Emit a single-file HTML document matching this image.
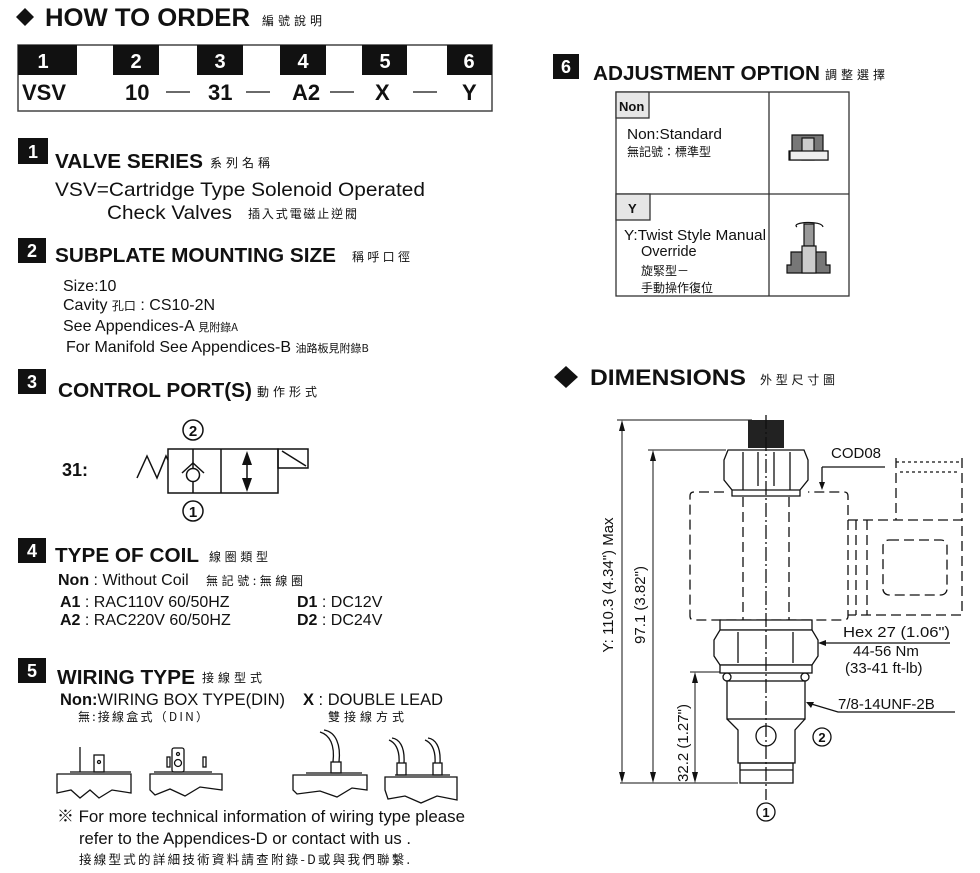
<!DOCTYPE html>
<html><head><meta charset="utf-8"><style>
html,body{margin:0;padding:0;background:#fff;}
svg{display:block;}
text{font-family:"Liberation Sans","Noto Sans CJK TC",sans-serif;fill:#111;}
.b{font-weight:bold;}
.cj{font-family:"Noto Sans CJK TC","WenQuanYi Zen Hei",sans-serif;}
</style></head><body>
<svg width="980" height="873" viewBox="0 0 980 873" xmlns="http://www.w3.org/2000/svg">
<!-- HOW TO ORDER -->
<polygon points="25,8 34,17 25,26 16,17" fill="#111"/>
<text x="45" y="26" class="b" font-size="25" textLength="205" lengthAdjust="spacingAndGlyphs">HOW TO  ORDER</text>
<text x="262" y="25" class="cj" font-size="12" textLength="60">編號說明</text>
<rect x="18" y="45" width="474" height="66" fill="none" stroke="#444" stroke-width="1.5"/>
<g fill="#111">
<rect x="18" y="45" width="59" height="30"/><rect x="113" y="45" width="46" height="30"/>
<rect x="197" y="45" width="46" height="30"/><rect x="280" y="45" width="46" height="30"/>
<rect x="362" y="45" width="45" height="30"/><rect x="447" y="45" width="45" height="30"/>
</g>
<g class="b" font-size="20" text-anchor="middle">
<text x="43" y="68" style="fill:#fff">1</text><text x="136" y="68" style="fill:#fff">2</text>
<text x="220" y="68" style="fill:#fff">3</text><text x="303" y="68" style="fill:#fff">4</text>
<text x="385" y="68" style="fill:#fff">5</text><text x="469" y="68" style="fill:#fff">6</text>
</g>
<g class="b" font-size="22">
<text x="22" y="100">VSV</text><text x="125" y="100">10</text><text x="208" y="100">31</text>
<text x="292" y="100">A2</text><text x="375" y="100">X</text><text x="462" y="100">Y</text>
</g>
<g stroke="#111" stroke-width="1.3">
<line x1="166" y1="92" x2="190" y2="92"/><line x1="246" y1="92" x2="270" y2="92"/>
<line x1="330" y1="92" x2="354" y2="92"/><line x1="413" y1="92" x2="437" y2="92"/>
</g>

<!-- section squares -->
<g fill="#111">
<rect x="18" y="138" width="30" height="26"/><rect x="18" y="238" width="28" height="25"/>
<rect x="18" y="369" width="28" height="25"/><rect x="18" y="538" width="28" height="25"/>
<rect x="18" y="658" width="28" height="25"/><rect x="553" y="54" width="26" height="25"/>
</g>
<g class="b" font-size="18" text-anchor="middle">
<text x="33" y="158" style="fill:#fff">1</text><text x="32" y="257" style="fill:#fff">2</text>
<text x="32" y="388" style="fill:#fff">3</text><text x="32" y="557" style="fill:#fff">4</text>
<text x="32" y="677" style="fill:#fff">5</text><text x="566" y="73" style="fill:#fff">6</text>
</g>

<!-- 1 -->
<text x="55" y="168" class="b" font-size="20" textLength="148" lengthAdjust="spacingAndGlyphs">VALVE SERIES</text>
<text x="210" y="167" class="cj" font-size="12" textLength="60">系列名稱</text>
<text x="55" y="196" font-size="19.5" textLength="370" lengthAdjust="spacingAndGlyphs">VSV=Cartridge Type Solenoid Operated</text>
<text x="107" y="219" font-size="19.5" textLength="125" lengthAdjust="spacingAndGlyphs">Check Valves</text>
<text x="248" y="218" class="cj" font-size="12" textLength="109">插入式電磁止逆閥</text>

<!-- 2 -->
<text x="55" y="262" class="b" font-size="20" textLength="281" lengthAdjust="spacingAndGlyphs">SUBPLATE MOUNTING SIZE</text>
<text x="352" y="261" class="cj" font-size="12" textLength="58">稱呼口徑</text>
<text x="63" y="291" font-size="16">Size:10</text>
<text x="63" y="310" font-size="16">Cavity <tspan class="cj" font-size="12">孔口</tspan> : CS10-2N</text>
<text x="63" y="331" font-size="16">See Appendices-A <tspan class="cj" font-size="11">見附錄A</tspan></text>
<text x="66" y="352" font-size="16">For Manifold See Appendices-B <tspan class="cj" font-size="11">油路板見附錄B</tspan></text>

<!-- 3 -->
<text x="58" y="397" class="b" font-size="20" textLength="194" lengthAdjust="spacingAndGlyphs">CONTROL PORT(S)</text>
<text x="257" y="396" class="cj" font-size="12" textLength="60">動作形式</text>
<text x="62" y="476" class="b" font-size="18">31:</text>
<g stroke="#111" stroke-width="1.5" fill="none">
<polyline points="137,478 147,456 157,478 166,456 168,460"/>
<rect x="168" y="449" width="110" height="44"/>
<line x1="221" y1="449" x2="221" y2="493"/>
<rect x="278" y="449" width="30" height="19"/>
<line x1="282" y1="451" x2="306" y2="466"/>
<circle cx="193" cy="475" r="6.5"/>
<line x1="193" y1="449" x2="193" y2="468"/><line x1="193" y1="482" x2="193" y2="493"/>
<polyline points="182,473 193,463 204,473"/>
<line x1="247" y1="455" x2="247" y2="488"/>
<circle cx="193" cy="430" r="10"/><circle cx="193" cy="511" r="10"/>
</g>
<polygon points="247,451 242,465 252,465" fill="#111"/>
<polygon points="247,492 242,478 252,478" fill="#111"/>
<text x="193" y="436" text-anchor="middle" class="b" font-size="15">2</text>
<text x="193" y="517" text-anchor="middle" class="b" font-size="15">1</text>

<!-- 4 -->
<text x="55" y="562" class="b" font-size="20" textLength="144" lengthAdjust="spacingAndGlyphs">TYPE OF COIL</text>
<text x="209" y="561" class="cj" font-size="12" textLength="59">線圈類型</text>
<text x="58" y="585" font-size="16"><tspan class="b">Non</tspan> : Without Coil </text>
<text x="206" y="585" class="cj" font-size="12" textLength="97">無記號:無線圈</text>
<text x="60" y="607" font-size="16"><tspan class="b">A1</tspan>   : RAC110V  60/50HZ</text>
<text x="60" y="625" font-size="16"><tspan class="b">A2</tspan>   : RAC220V  60/50HZ</text>
<text x="297" y="607" font-size="16"><tspan class="b">D1</tspan> : DC12V</text>
<text x="297" y="625" font-size="16"><tspan class="b">D2</tspan> : DC24V</text>

<!-- 5 -->
<text x="57" y="684" class="b" font-size="20" textLength="138" lengthAdjust="spacingAndGlyphs">WIRING TYPE</text>
<text x="202" y="682" class="cj" font-size="12" textLength="60">接線型式</text>
<text x="60" y="705" font-size="16.5" textLength="225" lengthAdjust="spacingAndGlyphs"><tspan class="b">Non:</tspan>WIRING BOX TYPE(DIN)</text>
<text x="78" y="721" class="cj" font-size="12" textLength="130">無:接線盒式（DIN）</text>
<text x="303" y="705" font-size="16.5" textLength="140" lengthAdjust="spacingAndGlyphs"><tspan class="b">X</tspan> : DOUBLE LEAD</text>
<text x="328" y="721" class="cj" font-size="12" textLength="76">雙接線方式</text>
<g stroke="#111" stroke-width="1.3" fill="none">
<path d="M57,774 L131,774 L131,793 L112,790 L99,798 L90,790 L80,798 L71,790 L57,793 Z"/>
<line x1="70" y1="772" x2="131" y2="772"/>
<line x1="80" y1="747" x2="80" y2="772"/>
<rect x="94" y="755" width="10" height="17"/><circle cx="99" cy="762" r="1.5"/>
<path d="M150,774 L222,774 L222,790 L200,787 L185,796 L170,789 L155,795 L150,790 Z"/>
<line x1="154" y1="772" x2="212" y2="772"/>
<rect x="172" y="748" width="12" height="24" rx="2"/><circle cx="178" cy="754" r="1.5"/><circle cx="178" cy="763" r="3.5"/>
<rect x="167" y="757" width="3" height="10"/><rect x="203" y="757" width="3" height="10"/>
<path d="M293,775 L367,775 L367,790 L352,788 L337,797 L320,791 L297,794 L293,790 Z"/>
<line x1="306" y1="773" x2="362" y2="773"/>
<rect x="331" y="762" width="10" height="11"/>
<path d="M333,762 C335,745 330,735 320,732 M339,762 C341,745 336,732 324,730"/>
<path d="M385,777 L457,777 L457,800 L437,796 L421,803 L405,796 L388,799 L385,790 Z"/>
<line x1="395" y1="775" x2="450" y2="775"/>
<rect x="397" y="763" width="9" height="12"/><rect x="433" y="763" width="9" height="12"/>
<path d="M399,763 C400,748 394,742 389,740 M404,763 C405,746 399,739 392,738"/>
<path d="M435,763 C436,748 430,742 425,740 M440,763 C441,746 435,739 428,738"/>
</g>
<text x="57" y="822" font-size="17" textLength="408" lengthAdjust="spacingAndGlyphs">※ For more technical information of wiring type  please</text>
<text x="79" y="844" font-size="17" textLength="332" lengthAdjust="spacingAndGlyphs">refer to the Appendices-D or contact with us .</text>
<text x="79" y="864" class="cj" font-size="12.5" textLength="331">接線型式的詳細技術資料請查附錄-D或與我們聯繫.</text>

<!-- 6 -->
<text x="593" y="80" class="b" font-size="20" textLength="227" lengthAdjust="spacingAndGlyphs">ADJUSTMENT OPTION</text>
<text x="825" y="79" class="cj" font-size="12" textLength="60">調整選擇</text>
<g stroke="#333" stroke-width="1.3">
<rect x="616" y="92" width="233" height="204" fill="none"/>
<line x1="769" y1="92" x2="769" y2="296"/><line x1="616" y1="194" x2="849" y2="194"/>
<rect x="616" y="92" width="33" height="26" fill="#e6e6e6"/>
<rect x="616" y="194" width="34" height="26" fill="#e6e6e6"/>
</g>
<text x="619" y="111" class="b" font-size="13">Non</text>
<text x="628" y="213" class="b" font-size="13">Y</text>
<text x="627" y="139" font-size="14.5" textLength="95" lengthAdjust="spacingAndGlyphs">Non:Standard</text>
<text x="627" y="156" class="cj" font-size="12">無記號：標準型</text>
<text x="624" y="240" font-size="14.5" textLength="142" lengthAdjust="spacingAndGlyphs">Y:Twist Style Manual</text>
<text x="641" y="256" font-size="14.5">Override</text>
<text x="641" y="275" class="cj" font-size="12">旋緊型－</text>
<text x="641" y="292" class="cj" font-size="12">手動操作復位</text>
<g stroke="#111" stroke-width="1.2">
<path d="M792,135 L823,135 L823,151 L828,151 L828,160 L789,160 L789,151 L792,151 Z" fill="#777"/>
<rect x="802" y="138" width="12" height="22" fill="#ccc"/>
<rect x="790" y="151" width="38" height="9" fill="#eee"/>
<rect x="804" y="224" width="10" height="22" fill="#999"/>
<path d="M797,227 C790,222 822,220 823,227" fill="none"/>
<path d="M791,252 L826,252 L826,265 L830,265 L830,273 L787,273 L787,265 L791,265 Z" fill="#777"/>
<rect x="802" y="246" width="14" height="27" fill="#ccc"/>
</g>

<!-- DIMENSIONS -->
<polygon points="566,366 578,377 566,388 554,377" fill="#111"/>
<text x="590" y="385" class="b" font-size="22" textLength="156" lengthAdjust="spacingAndGlyphs">DIMENSIONS</text>
<text x="760" y="384" class="cj" font-size="12" textLength="75">外型尺寸圖</text>
<g stroke="#111" stroke-width="1" fill="none">
<line x1="617" y1="420" x2="752" y2="420"/><line x1="620" y1="783" x2="738" y2="783"/>
<line x1="648" y1="450" x2="726" y2="450"/><line x1="690" y1="672" x2="725" y2="672"/>
<line x1="622" y1="424" x2="622" y2="779"/><line x1="653" y1="454" x2="653" y2="779"/>
<line x1="695" y1="676" x2="695" y2="779"/>
</g>
<g fill="#111">
<polygon points="622,420 619,431 625,431"/><polygon points="622,783 619,772 625,772"/>
<polygon points="653,450 650,461 656,461"/><polygon points="653,783 650,772 656,772"/>
<polygon points="695,672 692,683 698,683"/><polygon points="695,783 692,772 698,772"/>
</g>
<text transform="translate(613,585) rotate(-90)" text-anchor="middle" font-size="15">Y: 110.3 (4.34")  Max</text>
<text transform="translate(645,605) rotate(-90)" text-anchor="middle" font-size="15">97.1 (3.82")</text>
<text transform="translate(688,743) rotate(-90)" text-anchor="middle" font-size="15">32.2 (1.27")</text>
<rect x="748" y="420" width="36" height="28" fill="#222"/>
<g stroke="#111" stroke-width="1.3" fill="none">
<path d="M728,450 L804,450 L808,460 L808,480 L800,490 L800,496 L732,496 L732,490 L724,480 L724,460 Z" fill="#fff"/>
<line x1="743" y1="452" x2="743" y2="490"/><line x1="790" y1="452" x2="790" y2="490"/>
<line x1="758" y1="452" x2="758" y2="486"/><line x1="774" y1="452" x2="774" y2="486"/>
<line x1="732" y1="490" x2="800" y2="490"/>
<g stroke-dasharray="10,5">
<path d="M724,492 L694,492 Q690,492 690,496 L690,616 Q690,620 694,620 L844,620 Q848,620 848,616 L848,496 Q848,492 844,492 L808,492"/>
<line x1="743" y1="497" x2="743" y2="625"/><line x1="789" y1="497" x2="789" y2="625"/>
<path d="M848,520 L962,520 L962,615 L848,615"/>
<line x1="867" y1="520" x2="867" y2="615"/><line x1="856" y1="520" x2="856" y2="615"/>
<rect x="883" y="540" width="64" height="55" rx="6"/>
<line x1="896" y1="458" x2="896" y2="520"/><line x1="962" y1="458" x2="962" y2="520"/>
</g>
<path d="M896,462 L962,462 M900,472 L958,472" stroke-dasharray="3,3"/>
<path d="M720,620 L812,620 L812,630 L720,630 Z" fill="#fff"/>
<path d="M720,630 L812,630 L818,640 L818,656 L812,665 L720,665 L714,656 L714,640 Z" fill="#fff"/>
<line x1="738" y1="632" x2="738" y2="663"/><line x1="793" y1="632" x2="793" y2="663"/>
<rect x="720" y="665" width="92" height="8" fill="#fff"/>
<circle cx="727" cy="677" r="4"/><circle cx="805" cy="677" r="4"/>
<rect x="727" y="681" width="78" height="38" fill="#fff"/>
<path d="M727,719 L738,730 L738,763 L795,763 L795,730 L805,719"/>
<circle cx="766" cy="736" r="10"/>
<rect x="740" y="763" width="53" height="20"/>
<line x1="740" y1="770" x2="793" y2="770"/>
<line x1="766" y1="415" x2="766" y2="800" stroke-dasharray="14,3,2,3"/>
<line x1="822" y1="467" x2="885" y2="467"/><line x1="822" y1="467" x2="822" y2="485"/>
<line x1="822" y1="643" x2="950" y2="643"/>
<path d="M808,703 L838,712 L955,712"/>
<circle cx="822" cy="737" r="9"/><circle cx="766" cy="812" r="9"/>
</g>
<polygon points="822,490 819,482 825,482" fill="#111"/>
<polygon points="818,643 826,640 826,646" fill="#111"/>
<polygon points="806,702 814,702 811,708" fill="#111"/>
<text x="831" y="458" font-size="15">COD08</text>
<text x="843" y="637" font-size="15" textLength="107" lengthAdjust="spacingAndGlyphs">Hex 27 (1.06")</text>
<text x="853" y="656" font-size="15">44-56 Nm</text>
<text x="845" y="673" font-size="15">(33-41 ft-lb)</text>
<text x="838" y="709" font-size="15">7/8-14UNF-2B</text>
<text x="822" y="742" text-anchor="middle" class="b" font-size="13">2</text>
<text x="766" y="817" text-anchor="middle" class="b" font-size="13">1</text>
</svg>
</body></html>
